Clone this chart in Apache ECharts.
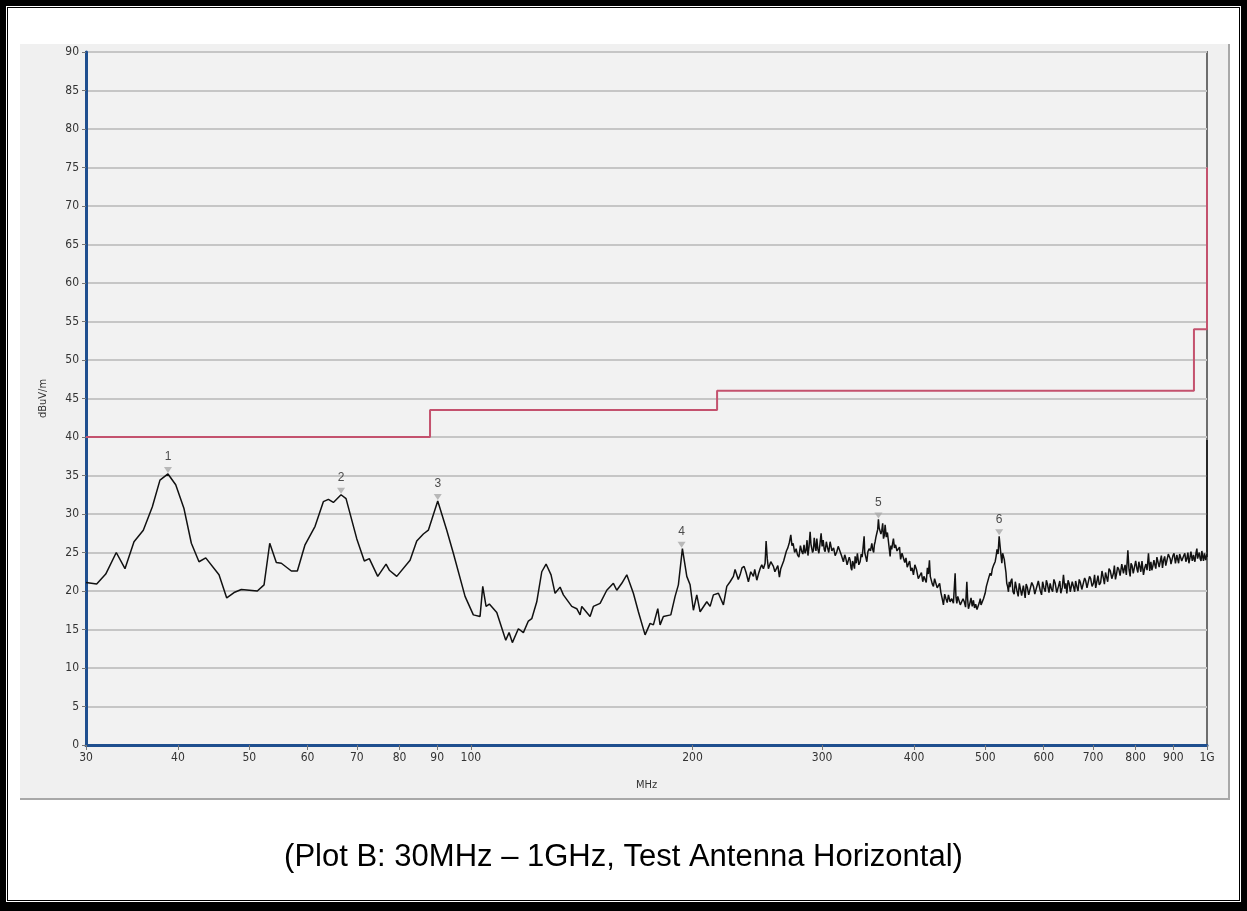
<!DOCTYPE html>
<html>
<head>
<meta charset="utf-8">
<title>Plot B: 30MHz - 1GHz, Test Antenna Horizontal</title>
<script src="https://cdn.jsdelivr.net/npm/echarts@6/dist/echarts.min.js"></script>
<style>
  html, body { margin: 0; padding: 0; background: #fff; }
  #frame {
    position: absolute; left: 0; top: 0; width: 1247px; height: 911px;
    box-sizing: border-box; border: 6px solid #000; border-bottom-width: 9px;
  }
  #inner {
    position: absolute; left: 1px; top: 1px; right: 1px; bottom: 1px;
    border: 1px solid #000;
  }
  #panel {
    position: absolute; left: 20px; top: 44px; width: 1210px; height: 756px;
    box-sizing: border-box; background: #f0f0f0;
    border-right: 2px solid #a8a8a8; border-bottom: 2px solid #a8a8a8;
  }
  #chart { position: absolute; left: 0; top: 0; width: 1247px; height: 911px; }
</style>
</head>
<body>
<div id="frame"><div id="inner"></div></div>
<div id="panel"></div>
<div id="chart"></div>
<script>
const trace = [
  [30.0, 21.1], [31.02, 20.9], [31.91, 22.2], [32.98, 25.0], [33.89, 22.9], [34.86, 26.4],
  [35.89, 27.9], [36.91, 30.9], [37.81, 34.4], [38.77, 35.2], [39.72, 33.8], [40.76, 30.7],
  [41.71, 26.2], [42.72, 23.8], [43.63, 24.3], [45.48, 22.1], [46.59, 19.1], [47.67, 19.8],
  [48.77, 20.2], [51.27, 20.0], [52.36, 20.8], [53.30, 26.2], [54.41, 23.7], [55.27, 23.6],
  [57.03, 22.6], [58.11, 22.6], [59.52, 26.0], [61.42, 28.4], [63.03, 31.6], [64.03, 31.9],
  [65.04, 31.5], [66.62, 32.5], [67.67, 32.0], [69.97, 26.8], [71.65, 23.9], [72.78, 24.2],
  [74.72, 21.9], [76.69, 23.5], [77.48, 22.7], [79.30, 21.9], [82.67, 24.0], [84.42, 26.5],
  [86.18, 27.4], [87.54, 27.9], [90.15, 31.7], [92.73, 27.9], [94.66, 24.9], [98.19, 19.3],
  [100.77, 16.9], [102.91, 16.7], [103.78, 20.6], [104.86, 18.0], [105.94, 18.3], [108.43, 17.2],
  [111.52, 13.6], [112.68, 14.6], [113.85, 13.3], [116.01, 15.1], [117.84, 14.6], [119.69, 16.1],
  [120.97, 16.4], [122.88, 18.6], [124.82, 22.5], [126.51, 23.5], [128.50, 22.1], [130.12, 19.7],
  [132.18, 20.5], [133.55, 19.5], [137.10, 18.0], [139.26, 17.7], [140.71, 16.9], [141.46, 18.0],
  [145.18, 16.7], [146.69, 18.0], [149.80, 18.4], [152.97, 20.1], [156.16, 21.0], [157.83, 20.1],
  [160.32, 21.0], [162.84, 22.1], [166.24, 19.7], [168.86, 17.3], [172.44, 14.3], [175.16, 15.8],
  [176.98, 15.6], [179.43, 17.7], [180.73, 15.6], [182.60, 16.7], [186.88, 16.9], [189.41, 19.3],
  [191.37, 20.8], [193.79, 25.5], [196.47, 21.9], [198.51, 20.8], [200.57, 17.5], [202.71, 19.5],
  [204.82, 17.3], [209.16, 18.6], [211.33, 18.0], [213.52, 19.5], [216.89, 19.7], [220.31, 18.2],
  [222.66, 20.6], [224.97, 21.2], [227.31, 21.9], [228.5, 22.8], [229.5, 22.6], [230.8, 21.5],
  [232.12, 22.1], [233.5, 23.0], [235.05, 23.2], [236.5, 22.4], [238.23, 21.2], [240.0, 22.5],
  [241.99, 21.9], [243.0, 22.8], [244.58, 21.4], [246.0, 22.3], [247.11, 22.9], [248.4, 23.4],
  [249.68, 22.9], [251.0, 23.6], [251.80, 26.5], [252.7, 24.2], [253.61, 22.9], [255.5, 23.8],
  [257.61, 23.2], [258.8, 22.5], [260.0, 22.4], [261.2, 23.3], [262.49, 21.8], [263.6, 22.9],
  [264.8, 23.0], [266.0, 23.9], [267.22, 24.0], [268.3, 25.2], [269.5, 25.6], [270.8, 26.3],
  [272.02, 27.3], [273.0, 25.9], [274.0, 26.2], [275.3, 25.0], [276.57, 25.5], [277.8, 24.7],
  [279.0, 24.4], [280.3, 25.9], [281.55, 25.1], [282.5, 24.8], [283.5, 26.0], [284.4, 24.9],
  [285.36, 25.3], [286.2, 26.6], [287.0, 24.6], [288.0, 25.8], [288.96, 27.7], [289.7, 26.1],
  [290.5, 26.3], [291.2, 25.0], [291.95, 25.3], [292.7, 26.9], [293.5, 25.9], [294.3, 25.2],
  [295.08, 26.8], [296.0, 25.5], [297.0, 24.9], [298.0, 26.1], [299.07, 27.5], [300.0, 25.8],
  [301.0, 26.6], [302.0, 25.4], [302.84, 25.1], [304.0, 26.4], [305.0, 25.7], [306.3, 25.0],
  [307.61, 26.4], [309.3, 25.2], [311.0, 25.6], [312.5, 24.6], [314.13, 25.1], [315.5, 25.8],
  [317.0, 25.9], [319.0, 24.5], [320.68, 23.8], [322.0, 24.7], [323.0, 24.3], [324.4, 23.4],
  [325.74, 23.2], [326.6, 24.4], [327.5, 24.0], [328.4, 23.0], [329.22, 22.7], [330.0, 23.9],
  [331.0, 23.5], [332.0, 22.9], [332.64, 24.5], [333.8, 23.6], [335.0, 24.9], [336.5, 23.4],
  [337.88, 23.8], [339.0, 24.8], [340.0, 24.4], [341.0, 25.6], [342.14, 27.1], [342.8, 25.0],
  [343.5, 25.0], [344.3, 24.2], [345.04, 23.8], [346.2, 25.1], [347.5, 25.5], [349.0, 25.2],
  [350.48, 26.2], [351.5, 25.4], [352.5, 25.0], [353.3, 26.0], [354.12, 26.4], [355.0, 27.0],
  [356.0, 27.5], [357.0, 28.0], [357.79, 29.3], [358.6, 28.2], [359.5, 28.4], [360.6, 27.4],
  [361.62, 27.9], [362.6, 28.8], [363.5, 26.8], [364.4, 27.2], [365.37, 28.6], [366.7, 27.0],
  [368.0, 27.6], [369.5, 26.1], [371.14, 24.5], [372.0, 25.9], [373.0, 25.4], [374.0, 26.2],
  [374.99, 26.8], [376.2, 25.6], [377.5, 26.0], [379.2, 25.2], [380.90, 25.1], [382.2, 25.7],
  [383.5, 24.1], [385.2, 24.9], [386.90, 24.7], [388.5, 23.7], [390.0, 24.3], [391.5, 23.1],
  [393.00, 23.2], [394.5, 23.9], [396.0, 22.6], [397.6, 23.0], [399.20, 22.1], [401.0, 23.4],
  [403.0, 22.8], [405.3, 21.6], [407.65, 21.4], [409.3, 22.4], [411.0, 21.2], [412.5, 21.9],
  [414.08, 22.1], [415.5, 21.1], [417.0, 23.0], [418.3, 22.2], [419.69, 24.0], [420.8, 21.9],
  [422.0, 21.8], [423.5, 20.9], [424.97, 20.6], [426.5, 21.6], [428.0, 21.6], [430.0, 20.4],
  [431.67, 20.3], [433.3, 21.0], [435.0, 19.8], [436.8, 19.0], [438.48, 18.2], [440.2, 19.6],
  [442.0, 19.0], [443.7, 18.5], [445.39, 19.5], [447.7, 18.6], [450.0, 19.0], [452.4, 18.4],
  [454.82, 22.3], [456.0, 19.2], [457.25, 18.4], [458.6, 19.3], [460.0, 19.3], [462.2, 18.2],
  [464.46, 18.0], [466.2, 19.0], [468.0, 18.6], [469.9, 17.9], [471.78, 21.2], [473.0, 18.9],
  [474.15, 17.7], [476.0, 18.3], [478.0, 19.1], [479.8, 18.0], [481.63, 18.8], [483.3, 17.8],
  [485.0, 18.3], [487.0, 17.6], [489.22, 17.7], [490.6, 18.5], [492.0, 19.0], [493.2, 18.2],
  [494.45, 18.4], [497.0, 19.0], [499.58, 19.7], [501.5, 20.6], [503.5, 20.8], [505.5, 21.8],
  [507.46, 22.3], [509.2, 22.0], [511.0, 22.9], [513.2, 23.4], [515.46, 23.8], [517.0, 24.5],
  [518.5, 25.4], [520.2, 24.8], [521.95, 27.1], [524.1, 25.3], [526.38, 23.6], [527.7, 24.9],
  [529.0, 25.0], [530.4, 24.1], [531.84, 23.2], [533.2, 22.4], [534.5, 21.0], [535.9, 20.6],
  [537.36, 19.9], [538.7, 21.2], [540.0, 20.5], [541.5, 21.3], [543.11, 21.6], [545.0, 19.9],
  [547.0, 19.6], [549.0, 21.2], [551.67, 20.1], [554.0, 19.3], [556.0, 21.0], [558.0, 20.2],
  [560.0, 19.4], [563.0, 20.7], [566.18, 19.1], [568.0, 20.9], [570.0, 20.5], [572.5, 19.5],
  [575.0, 19.6], [578.0, 21.1], [581.08, 20.6], [583.5, 19.6], [586.0, 19.8], [590.0, 21.3],
  [593.39, 20.1], [596.0, 19.5], [598.0, 21.2], [600.5, 20.4], [603.0, 19.9], [605.0, 21.4],
  [607.0, 20.9], [610.0, 19.8], [612.25, 21.0], [614.5, 20.3], [617.0, 19.9], [619.5, 21.5],
  [622.0, 21.0], [625.0, 19.8], [628.36, 20.6], [631.0, 21.3], [633.0, 19.7], [636.0, 20.5],
  [638.26, 22.1], [641.0, 20.3], [643.0, 21.0], [645.09, 19.7], [647.5, 21.4], [650.0, 20.9],
  [652.0, 19.9], [654.0, 20.0], [656.0, 21.2], [658.55, 20.6], [661.0, 19.9], [663.0, 21.3],
  [665.5, 20.6], [668.0, 20.0], [670.5, 21.5], [673.0, 21.1], [676.0, 20.2], [679.48, 20.1],
  [682.0, 21.7], [684.0, 21.4], [687.0, 20.4], [690.0, 20.5], [692.5, 21.9], [695.0, 21.6],
  [698.0, 20.6], [701.07, 21.0], [703.5, 22.1], [706.0, 20.4], [708.5, 21.2], [711.0, 22.0],
  [714.0, 20.8], [717.0, 21.1], [720.0, 22.6], [723.35, 21.6], [725.5, 20.9], [728.0, 22.4],
  [730.5, 21.8], [733.0, 21.2], [736.0, 22.9], [739.0, 22.6], [742.5, 21.6], [746.34, 22.3],
  [748.5, 23.3], [751.0, 21.5], [753.5, 22.2], [756.0, 23.1], [759.0, 22.8], [762.0, 22.0],
  [766.0, 23.5], [770.06, 22.3], [772.0, 22.9], [774.0, 23.4], [777.0, 22.1], [780.73, 25.3],
  [783.5, 22.8], [786.37, 21.9], [788.5, 23.6], [791.0, 23.3], [794.0, 22.3], [797.0, 22.4],
  [800.0, 23.9], [803.02, 22.9], [805.5, 22.4], [808.0, 23.8], [810.5, 23.2], [813.0, 22.5],
  [816.0, 23.9], [819.77, 22.1], [823.0, 23.0], [826.0, 23.5], [829.0, 22.7], [832.70, 24.9],
  [834.5, 23.6], [836.0, 22.6], [839.0, 23.8], [841.60, 22.7], [844.5, 23.3], [847.0, 24.0],
  [849.5, 23.4], [852.0, 22.9], [855.0, 24.4], [858.0, 24.3], [861.0, 23.1], [863.75, 23.8],
  [867.0, 24.6], [870.0, 23.0], [873.0, 24.0], [876.0, 24.5], [879.0, 23.3], [882.0, 23.4],
  [886.0, 24.8], [891.20, 24.2], [893.5, 23.5], [896.0, 23.3], [899.0, 24.6], [902.0, 24.9],
  [906.0, 23.6], [910.07, 24.7], [912.5, 24.1], [915.0, 23.6], [918.0, 24.8], [921.0, 25.0],
  [924.0, 23.9], [927.0, 23.7], [930.0, 24.6], [933.0, 24.9], [936.0, 23.8], [939.00, 24.2],
  [942.0, 25.0], [945.0, 23.6], [948.0, 24.3], [951.0, 25.1], [955.0, 23.9], [958.59, 24.7],
  [961.0, 24.1], [963.0, 23.8], [966.0, 24.9], [968.84, 25.5], [971.0, 24.2], [973.0, 24.0],
  [976.0, 25.0], [978.89, 24.2], [981.5, 23.9], [984.0, 25.2], [986.5, 24.5], [989.0, 23.9],
  [992.0, 24.9], [994.33, 24.7], [996.0, 24.0], [998.0, 24.0], [999.5, 24.8], [1000.0, 24.4],
  [1000.0, 39.6]
];

// FCC limit line
const limitFreq = [30, 88, 88, 216, 216, 960, 960, 1000, 1000];
const limitDb = [40, 40, 43.5, 43.5, 46, 46, 54, 54, 75];

// peak markers
const markerFreq = [38.77, 66.62, 90.15, 193.3, 357.8, 522.0];
const markerDb = [35.2, 32.5, 31.7, 25.5, 29.3, 27.1];
const markerName = ['1', '2', '3', '4', '5', '6'];

// axis ticks
const xTicks = [30, 40, 50, 60, 70, 80, 90, 100, 200, 300, 400, 500, 600, 700, 800, 900, 1000];

const AXIS_FONT = "'Liberation Sans Narrow', 'DejaVu Sans Condensed', 'Liberation Sans', sans-serif";

const chart = echarts.init(document.getElementById('chart'), null, { renderer: 'canvas' });

chart.setOption({
  animation: false,
  backgroundColor: 'transparent',
  title: {
    text: '(Plot B: 30MHz \u2013 1GHz, Test Antenna Horizontal)',
    left: 'center',
    top: 837,
    textStyle: {
      fontFamily: "'Liberation Sans', Arial, sans-serif",
      fontSize: 31,
      fontWeight: 'normal',
      color: '#000'
    }
  },
  grid: {
    left: 86, right: 40, top: 52, bottom: 166,
    show: true,
    backgroundColor: '#f2f2f2',
    borderColor: '#6e6e6e',
    borderWidth: 2
  },
  xAxis: {
    type: 'log',
    logBase: 10,
    min: 30,
    max: 1000,
    name: 'MHz',
    nameLocation: 'middle',
    nameGap: 35,
    nameTextStyle: { fontFamily: AXIS_FONT, fontSize: 11, color: '#333' },
    axisLine: { show: true, onZero: false, lineStyle: { color: '#1f4f8f', width: 3 } },
    axisTick: { show: true, length: 5, customValues: xTicks, lineStyle: { color: '#777' } },
    axisLabel: {
      customValues: xTicks,
      fontFamily: AXIS_FONT,
      fontSize: 12,
      color: '#333',
      margin: 7,
      formatter: (v) => (Math.round(v) >= 1000 ? '1G' : String(Math.round(v)))
    },
    splitLine: { show: false },
    minorSplitLine: { show: false }
  },
  yAxis: {
    type: 'value',
    min: 0,
    max: 90,
    interval: 5,
    name: 'dBuV/m',
    nameLocation: 'middle',
    nameRotate: 90,
    nameGap: 37,
    nameTextStyle: { fontFamily: AXIS_FONT, fontSize: 11, color: '#333' },
    axisLine: { show: true, lineStyle: { color: '#1f4f8f', width: 3 } },
    axisTick: { show: true, length: 4, lineStyle: { color: '#777' } },
    axisLabel: { fontFamily: AXIS_FONT, fontSize: 12, color: '#333', margin: 7 },
    splitLine: { show: true, lineStyle: { color: '#c6c6c6', width: 2 } }
  },
  series: [
    {
      name: 'Limit',
      type: 'line',
      data: limitFreq.map((f, i) => [f, limitDb[i]]),
      showSymbol: false,
      lineStyle: { color: '#c4526e', width: 2 },
      z: 3,
      silent: true
    },
    {
      name: 'Level',
      type: 'line',
      data: trace,
      showSymbol: false,
      sampling: null,
      lineStyle: { color: '#111', width: 1.5 },
      z: 4,
      silent: true
    },
    {
      name: 'Peaks',
      type: 'scatter',
      data: markerFreq.map((f, i) => ({ name: markerName[i], value: [f, markerDb[i]] })),
      symbol: 'triangle',
      symbolRotate: 180,
      symbolSize: [8, 6],
      symbolOffset: [0, -4],
      itemStyle: { color: '#a9a9a9' },
      label: {
        show: true,
        position: 'top',
        distance: 4,
        formatter: (p) => p.name,
        fontFamily: "'Liberation Sans', Arial, sans-serif",
        fontSize: 12,
        color: '#222'
      },
      z: 5,
      silent: true
    }
  ]
});
</script>
</body>
</html>
